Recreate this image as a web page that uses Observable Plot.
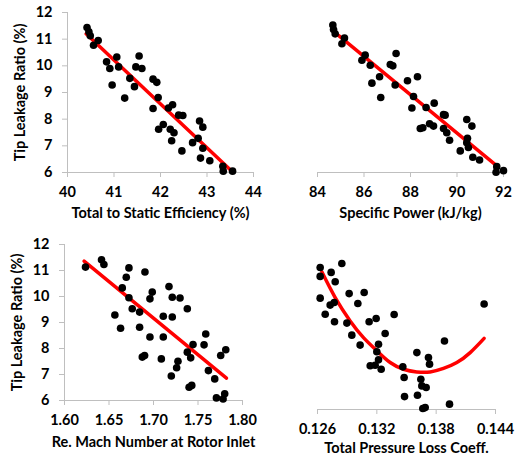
<!DOCTYPE html>
<html><head><meta charset="utf-8">
<script src="https://cdn.jsdelivr.net/npm/d3@7"></script>
<script src="https://cdn.jsdelivr.net/npm/@observablehq/plot@0.6"></script>
<style>
body{margin:0;background:#fff;}
#wrap{position:relative;width:521px;height:456px;background:#fff;overflow:hidden;}
#wrap > svg{position:absolute;overflow:visible;}
</style></head><body><div id="wrap"></div>
<script>
const yLabel = "Tip Leakage Ratio (%)";
const yTicks = [6, 7, 8, 9, 10, 11, 12];

// Panel 1: Total to Static Efficiency
const effTicks = [40, 41, 42, 43, 44];
const effX = [40.42,40.46,40.49,40.66,40.56,40.84,40.91,41.06,41.10,40.96,41.23,41.34,41.44,41.47,41.54,41.60,41.84,41.92,41.95,41.84,42.17,42.26,42.39,42.48,41.96,42.06,42.21,42.29,42.24,42.46,42.84,42.91,42.81,42.69,42.91,42.86,43.06,43.34,43.35,43.55];
const effY = [11.44,11.28,11.13,10.95,10.77,10.15,9.90,10.33,9.96,9.28,8.79,9.53,9.22,9.96,10.37,9.90,9.50,9.38,8.81,8.40,8.42,8.54,8.15,8.14,7.62,7.80,7.62,7.49,7.19,6.81,7.93,7.70,7.28,7.12,6.91,6.54,6.44,6.23,6.05,6.05];
const effFitX = [40.4, 43.5];
const effFitY = [11.2, 6.1];

// Panel 2: Specific Power
const powTicks = [84, 86, 88, 90, 92];
const powX = [84.66,84.69,84.76,85.16,85.05,86.05,85.91,86.27,87.38,87.13,87.24,86.67,86.34,87.34,86.72,87.87,88.30,88.13,88.06,88.67,89.02,89.42,89.49,88.82,88.99,88.42,88.53,89.42,89.56,89.68,90.42,90.64,90.45,90.42,90.49,90.14,90.68,90.97,91.71,91.68,92.00];
const powY = [11.53,11.36,11.20,11.04,10.83,10.40,10.21,10.02,10.46,10.05,10.00,9.59,9.35,9.28,8.81,9.44,9.59,8.85,8.42,8.44,8.60,8.17,8.15,7.83,7.74,7.65,7.68,7.65,7.49,7.21,7.99,7.74,7.28,7.12,6.94,6.81,6.57,6.47,6.22,6.01,6.07];
const powFitX = [84.9, 91.7];
const powFitY = [11.14, 6.26];

// Panel 3: Re. Mach Number at Rotor Inlet
const machTicks = [1.60, 1.65, 1.70, 1.75, 1.80];
const machX = [1.6236,1.6416,1.6443,1.6724,1.6694,1.6904,1.6649,1.6724,1.6986,1.6960,1.6761,1.6844,1.6566,1.6630,1.6844,1.6960,1.7110,1.7110,1.7211,1.7174,1.7211,1.7298,1.7380,1.6874,1.6900,1.7088,1.7275,1.7260,1.7200,1.7380,1.7418,1.7444,1.7568,1.7587,1.7617,1.7688,1.7400,1.7430,1.7755,1.7812,1.7707,1.7782,1.7800];
const machY = [11.13,11.41,11.23,11.10,10.74,10.94,10.33,9.95,10.17,9.91,9.53,9.40,9.29,8.78,8.82,8.44,8.44,9.24,9.21,10.38,9.97,9.94,9.53,7.67,7.73,7.60,7.51,7.26,6.94,7.86,7.64,8.15,8.14,8.56,7.15,6.83,6.51,6.58,7.73,7.95,6.10,6.06,6.26];
const machFitX = [1.622, 1.782];
const machFitY = [11.36, 6.86];

// Panel 4: Total Pressure Loss Coeff.
const lossTicks = [0.126, 0.132, 0.138, 0.144];
const lossX = [0.12627,0.12627,0.12738,0.12846,0.12779,0.12627,0.12728,0.12769,0.12678,0.12772,0.12920,0.13072,0.13008,0.12897,0.12947,0.13031,0.13122,0.13193,0.13375,0.13284,0.13217,0.13200,0.13217,0.13133,0.13183,0.13244,0.13463,0.13476,0.13480,0.13605,0.13722,0.13733,0.13645,0.13655,0.13699,0.13611,0.13665,0.13689,0.13884,0.13935,0.14285];
const lossY = [11.29,10.96,11.11,11.44,10.76,10.15,9.89,9.99,9.55,9.27,10.32,10.36,9.95,9.22,8.77,8.40,9.27,9.39,9.54,8.83,8.43,8.15,7.85,7.63,7.65,7.50,7.59,7.19,6.48,8.12,7.94,7.69,7.13,6.88,6.82,6.53,6.04,6.07,8.55,6.20,9.93];
const lossFitX = [0.12644,0.12779,0.1293,0.13065,0.132,0.13335,0.1347,0.13604,0.13739,0.13874,0.14009,0.14144,0.14285];
const lossFitY = [11.13,10.17,9.30,8.68,8.19,7.75,7.50,7.40,7.40,7.53,7.75,8.12,8.65];

const AXIS = "#bfbfbf";
const FONT = "Lato, 'Open Sans', sans-serif";
const TICK_FS = 14.5;
const TITLE_FS = 14.5;

function panel(o) {
  const pts = o.xs.map((x, i) => ({x, y: o.ys[i]}));
  const fit = o.fx.map((x, i) => ({x, y: o.fy[i]}));
  const xd = [o.xTicks[0], o.xTicks[o.xTicks.length - 1]];
  const marks = [
    Plot.ruleY([6], {stroke: AXIS, strokeWidth: 1}),
    Plot.axisX({ticks: o.xTicks, tickSize: 5, tickPadding: 9, stroke: AXIS, fill: "black",
      tickFormat: o.fmt, label: null, fontWeight: "bold", fontSize: TICK_FS}),
    Plot.text([o.xLabel], {frameAnchor: "bottom", dy: o.titleDy, text: d => d, fontWeight: "bold",
      fontSize: TITLE_FS, fill: "black", lineAnchor: "middle", textAnchor: "middle"}),
    Plot.line(fit, {x: "x", y: "y", stroke: "#ff0000", strokeWidth: 3.5, curve: "natural"}),
    Plot.dot(pts, {x: "x", y: "y", r: 3.8, fill: "black", stroke: "none"})
  ];
  if (o.yAxis) {
    marks.unshift(Plot.ruleX([xd[0]], {stroke: AXIS, strokeWidth: 1}));
    marks.push(Plot.axisY({ticks: yTicks, tickSize: 5, tickPadding: 10, stroke: AXIS, fill: "black",
      tickFormat: d3.format("d"), label: null, fontWeight: "bold", fontSize: TICK_FS}));
    marks.push(Plot.text([yLabel], {frameAnchor: "left", dx: -47, rotate: -90, text: d => d,
      fontWeight: "bold", fontSize: TITLE_FS, fill: "black", lineAnchor: "middle", textAnchor: "middle"}));
  }
  const svg = Plot.plot({
    width: o.w, height: o.h,
    marginLeft: o.mL, marginRight: o.mR, marginTop: o.mT, marginBottom: o.mB,
    style: {fontFamily: FONT, background: "transparent", color: "black"},
    x: {domain: xd, axis: null},
    y: {domain: [6, 12], axis: null},
    marks
  });
  svg.style.left = o.left + "px";
  svg.style.top = o.top + "px";
  document.getElementById("wrap").appendChild(svg);
}

panel({xs: effX, ys: effY, fx: effFitX, fy: effFitY, xTicks: effTicks, fmt: d3.format("d"),
  xLabel: "Total to Static Efficiency (%)", yAxis: true,
  left: 0, top: 0, w: 262, h: 228, mL: 67, mR: 9, mT: 12, mB: 56, titleDy: 41});
panel({xs: powX, ys: powY, fx: powFitX, fy: powFitY, xTicks: powTicks, fmt: d3.format("d"),
  xLabel: "Specific Power (kJ/kg)", yAxis: false,
  left: 262, top: 0, w: 259, h: 228, mL: 55, mR: 18, mT: 12, mB: 56, titleDy: 41});
panel({xs: machX, ys: machY, fx: machFitX, fy: machFitY, xTicks: machTicks, fmt: d3.format(".2f"),
  xLabel: "Re. Mach Number at Rotor Inlet", yAxis: true,
  left: 0, top: 228, w: 262, h: 228, mL: 64, mR: 20, mT: 16, mB: 56, titleDy: 42});
panel({xs: lossX, ys: lossY, fx: lossFitX, fy: lossFitY, xTicks: lossTicks, fmt: d3.format(".3f"),
  xLabel: "Total Pressure Loss Coeff.", yAxis: false,
  left: 262, top: 228, w: 259, h: 228, mL: 55, mR: 26, mT: 20, mB: 47, titleDy: 39});
</script></body></html>
